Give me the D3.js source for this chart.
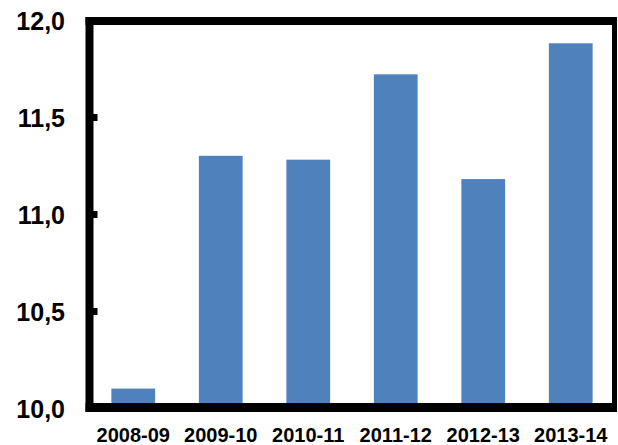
<!DOCTYPE html>
<html>
<head>
<meta charset="utf-8">
<script src="https://cdn.jsdelivr.net/npm/d3@7"></script>
<style>
  html, body { margin: 0; padding: 0; background: #fff; }
  svg { display: block; }
  text { font-family: "Liberation Sans", Arial, sans-serif; font-weight: bold; fill: #000; }
</style>
</head>
<body>
<svg id="chart" width="618" height="445"></svg>
<script>
// Season labels and their values
const categories = ["2008-09", "2009-10", "2010-11", "2011-12", "2012-13", "2013-14"];
const values = [10.10, 11.30, 11.28, 11.72, 11.18, 11.88];
const yTicks = [10.0, 10.5, 11.0, 11.5, 12.0];

const svg = d3.select("#chart");
const plotLeft = 89.5, plotRight = 614.5, plotTop = 20, plotBottom = 408;

const x = d3.scaleBand().domain(categories).range([plotLeft, plotRight]).paddingInner(0.5).paddingOuter(0.25);
const y = d3.scaleLinear().domain([10, 12]).range([plotBottom, plotTop]);

// Bars
svg.append("g").selectAll("rect").data(values).join("rect")
  .attr("x", (d, i) => x(categories[i]))
  .attr("width", x.bandwidth())
  .attr("y", d => y(d))
  .attr("height", d => y(10) - y(d))
  .attr("fill", "#4f81bd");

// Frame around the plot area
svg.append("line").attr("x1", plotLeft - 4).attr("x2", plotRight + 2).attr("y1", 21).attr("y2", 21)
  .attr("stroke", "#000").attr("stroke-width", 8);
svg.append("line").attr("x1", plotLeft).attr("x2", plotLeft).attr("y1", 17).attr("y2", 412)
  .attr("stroke", "#000").attr("stroke-width", 8);
svg.append("line").attr("x1", plotLeft - 4).attr("x2", plotRight + 2).attr("y1", 407.5).attr("y2", 407.5)
  .attr("stroke", "#000").attr("stroke-width", 9);
svg.append("line").attr("x1", plotRight).attr("x2", plotRight).attr("y1", 17).attr("y2", 412)
  .attr("stroke", "#000").attr("stroke-width", 5);

// Y axis: short inward ticks and labels
const yAxis = d3.axisLeft(y).tickValues(yTicks)
  .tickFormat(d => d3.format(".1f")(d).replace(".", ","))
  .tickSize(0).tickPadding(24.5);
const gy = svg.append("g").attr("transform", `translate(${plotLeft},0)`).call(yAxis);
gy.select(".domain").remove();
gy.selectAll("text").style("font-size", "25px").attr("dy", "0.36em");
gy.selectAll(".tick").filter(d => d > 10 && d < 12).append("line")
  .attr("x1", 0).attr("x2", 8).attr("stroke", "#000").attr("stroke-width", 7);

// X axis labels
const xAxis = d3.axisBottom(x).tickSize(0).tickPadding(0);
const gx = svg.append("g").attr("transform", `translate(0,${plotBottom})`).call(xAxis);
gx.select(".domain").remove();
gx.selectAll("text").style("font-size", "20px").attr("dy", null).attr("y", 33.5);
</script>
</body>
</html>
